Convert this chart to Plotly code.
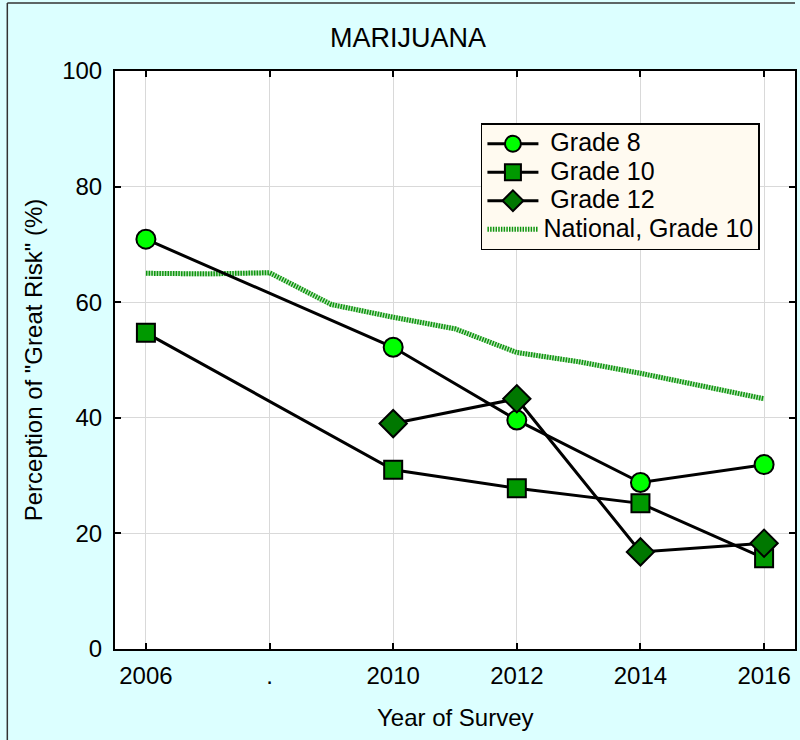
import plotly.graph_objects as go

years = [2006, 2010, 2012, 2014, 2016]
grade8 = [70.9, 52.2, 39.6, 28.8, 31.9]
grade10 = [54.7, 31.0, 27.8, 25.2, 15.7]
years12 = [2010, 2012, 2014, 2016]
grade12 = [39.0, 43.3, 16.8, 18.3]
nat_years = [2006, 2007, 2008, 2009, 2010, 2011, 2012, 2013, 2014, 2015, 2016]
national10 = [65.0, 64.9, 65.1, 59.6, 57.4, 55.4, 51.3, 49.7, 47.7, 45.6, 43.3]
tick_vals = [2006, 2008, 2010, 2012, 2014, 2016]
tick_text = ["2006", ".", "2010", "2012", "2014", "2016"]
series_names = ["Grade 8", "Grade 10", "Grade 12", "National, Grade 10"]

FONT = "Liberation Sans, Arial, sans-serif"
W, H = 800, 740
L, T = 115, 71
pw, ph = 682, 578
R = W - L - pw
B = H - T - ph


def px_x(p):
    return (p - L) / pw


def px_y(p):
    return 1 - (p - T) / ph


def lname(s, pad=True):
    return '<span style="font-size:25px">' + ("\u00a0" if pad else "") + s + "</span>"


fig = go.Figure()

fig.add_trace(go.Scatter(x=nat_years, y=national10, mode="lines",
                         line=dict(color="#bfe6bf", width=5),
                         showlegend=False, hoverinfo="skip"))
fig.add_trace(go.Scatter(x=nat_years, y=national10, mode="lines",
                         name=lname(series_names[3], pad=False),
                         line=dict(color="#0f950f", width=5, dash="1.5px,1.2px")))

fig.add_trace(go.Scatter(x=years, y=grade8, mode="lines+markers", name=lname(series_names[0]),
                         line=dict(color="black", width=3),
                         marker=dict(symbol="circle", size=19, color="#00ff00",
                                     line=dict(color="black", width=2))))
fig.add_trace(go.Scatter(x=years, y=grade10, mode="lines+markers", name=lname(series_names[1]),
                         line=dict(color="black", width=3),
                         marker=dict(symbol="square", size=18, color="#009900",
                                     line=dict(color="black", width=2))))
fig.add_trace(go.Scatter(x=years12, y=grade12, mode="lines+markers", name=lname(series_names[2]),
                         line=dict(color="black", width=3),
                         marker=dict(symbol="diamond", size=21, color="#007700",
                                     line=dict(color="black", width=2))))

fig.data[1].legendrank = 1004
fig.data[2].legendrank = 1001
fig.data[3].legendrank = 1002
fig.data[4].legendrank = 1003

fig.update_layout(
    width=W, height=H,
    margin=dict(l=L, r=R, t=T, b=B, pad=0),
    paper_bgcolor="#dcffff",
    plot_bgcolor="white",
    font=dict(family=FONT, size=23, color="black"),
    legend=dict(x=px_x(482), y=px_y(123), xanchor="left", yanchor="top",
                bgcolor="#fffaf0", bordercolor="black", borderwidth=1.5,
                font=dict(size=19.6, family=FONT), itemwidth=51,
                traceorder="normal"),
    showlegend=True,
)

fig.update_xaxes(range=[2005.5, 2016.5], tickvals=tick_vals, ticktext=tick_text,
                 showgrid=True, gridcolor="#d9d9d9", gridwidth=1,
                 showline=True, linecolor="black", linewidth=2, mirror="ticks",
                 ticks="inside", ticklen=6, tickcolor="black", tickwidth=1.5,
                 tickfont=dict(size=24, family=FONT), ticklabelstandoff=4,
                 zeroline=False)
fig.update_yaxes(range=[0, 100], tickvals=[0, 20, 40, 60, 80, 100],
                 showgrid=True, gridcolor="#d9d9d9", gridwidth=1,
                 showline=True, linecolor="black", linewidth=2, mirror="ticks",
                 ticks="inside", ticklen=6, tickcolor="black", tickwidth=1.5,
                 tickfont=dict(size=24, family=FONT), ticklabelstandoff=6,
                 zeroline=False)

fig.add_annotation(text="MARIJUANA", xref="paper", yref="paper",
                   x=px_x(409), y=px_y(38), showarrow=False,
                   font=dict(size=27, family=FONT), xanchor="center", yanchor="middle")
fig.add_annotation(text="Year of Survey", xref="paper", yref="paper",
                   x=px_x(456), y=px_y(717), showarrow=False,
                   font=dict(size=24, family=FONT), xanchor="center", yanchor="middle")
fig.add_annotation(text='Perception of "Great Risk" (%)', xref="paper", yref="paper",
                   x=px_x(33), y=px_y(360), showarrow=False, textangle=-90,
                   font=dict(size=24, family=FONT), xanchor="center", yanchor="middle")

# Outer figure border (left and top edges)
fig.add_shape(type="line", xref="paper", yref="paper",
              x0=px_x(7), x1=px_x(7), y0=px_y(745), y1=px_y(3),
              line=dict(color="#333333", width=1.5), layer="below")
fig.add_shape(type="line", xref="paper", yref="paper",
              x0=px_x(7), x1=1.0, y0=px_y(3), y1=px_y(3),
              line=dict(color="#333333", width=1.5), layer="below")

fig.write_html("out.html", config={"displayModeBar": False},
               post_script="document.body.style.margin='0';document.body.style.overflow='hidden';")
